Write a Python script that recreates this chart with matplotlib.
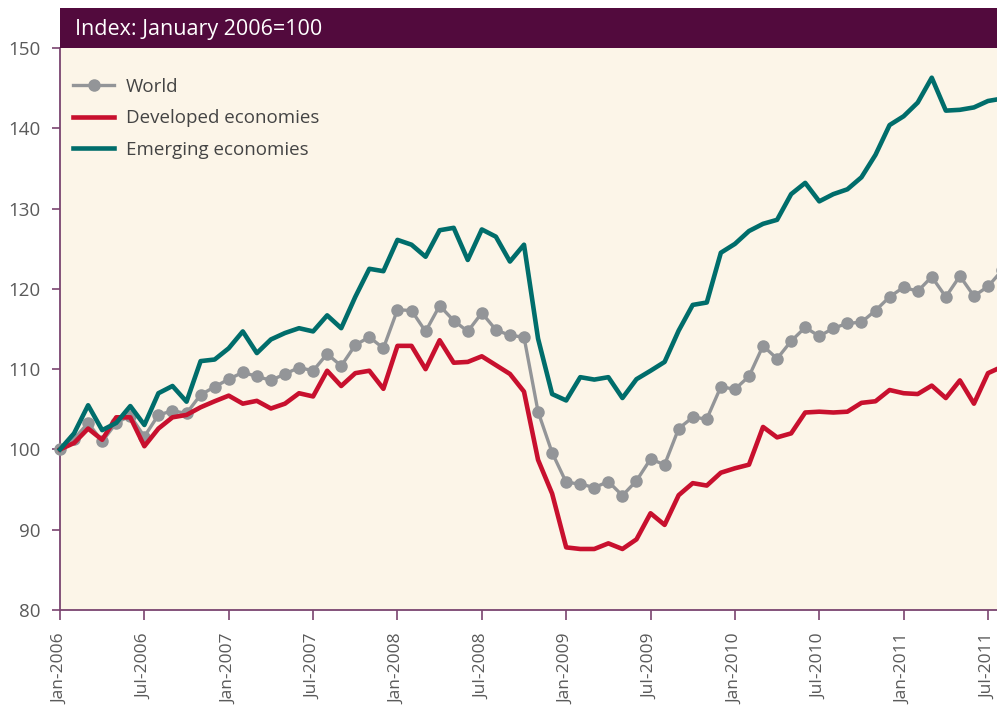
import matplotlib
matplotlib.use("Agg")
import matplotlib.pyplot as plt
import numpy as np
from matplotlib.patches import Rectangle

plt.rcParams['font.family'] = ['Open Sans', 'DejaVu Sans']

# monthly index, Jan-2006 .. Aug-2011 (Jan 2006 = 100)
world = [100.0, 101.3, 103.3, 101.0, 103.3, 104.2, 101.6, 104.3, 104.8, 104.5,
         106.8, 107.8, 108.75, 109.6, 109.1, 108.6, 109.4, 110.2, 109.8, 111.9,
         110.4, 113.0, 114.0, 112.6, 117.4, 117.3, 114.7, 117.9, 116.05, 114.7,
         117.0, 114.9, 114.2, 114.0, 104.7, 99.6, 95.9, 95.7, 95.25, 96.0,
         94.25, 96.1, 98.8, 98.1, 102.6, 104.0, 103.8, 107.8, 107.5, 109.1,
         112.9, 111.3, 113.5, 115.2, 114.1, 115.1, 115.7, 115.85, 117.3, 119.0,
         120.2, 119.7, 121.5, 119.0, 121.6, 119.1, 120.3, 122.3]
developed = [100.0, 100.8, 102.6, 101.2, 104.0, 104.0, 100.4, 102.6, 104.0, 104.3,
             105.25, 106.0, 106.7, 105.7, 106.05, 105.1, 105.7, 107.0, 106.6, 109.8,
             107.9, 109.5, 109.8, 107.55, 112.9, 112.9, 110.0, 113.6, 110.8, 110.9,
             111.6, 110.5, 109.4, 107.2, 98.7, 94.5, 87.8, 87.6, 87.6, 88.3,
             87.6, 88.8, 92.05, 90.6, 94.3, 95.8, 95.5, 97.1, 97.65, 98.1,
             102.8, 101.5, 102.0, 104.6, 104.7, 104.6, 104.7, 105.8, 106.0, 107.4,
             107.0, 106.9, 107.95, 106.4, 108.6, 105.7, 109.5, 110.3]
emerging = [100.0, 102.0, 105.5, 102.4, 103.3, 105.4, 103.05, 107.0, 107.9, 105.95,
            111.0, 111.2, 112.6, 114.7, 112.0, 113.7, 114.5, 115.1, 114.7, 116.7,
            115.1, 119.0, 122.5, 122.2, 126.1, 125.5, 124.0, 127.3, 127.6, 123.6,
            127.4, 126.5, 123.4, 125.5, 113.8, 106.9, 106.1, 109.0, 108.7, 109.0,
            106.4, 108.75, 109.8, 110.9, 114.8, 118.0, 118.3, 124.5, 125.6, 127.2,
            128.1, 128.6, 131.8, 133.2, 130.9, 131.8, 132.4, 133.9, 136.7, 140.4,
            141.5, 143.2, 146.3, 142.2, 142.3, 142.6, 143.4, 143.7]

tick_labels = ['Jan-2006', 'Jul-2006', 'Jan-2007', 'Jul-2007', 'Jan-2008', 'Jul-2008',
               'Jan-2009', 'Jul-2009', 'Jan-2010', 'Jul-2010', 'Jan-2011', 'Jul-2011']
y_ticks = [80, 90, 100, 110, 120, 130, 140, 150]
title = 'Index: January 2006=100'

GREY = '#939598'
RED = '#c8102e'
TEAL = '#006d6b'
PURPLE = '#520a3d'
SPINE = '#7a4470'
BG = '#fcf5e8'
TXT = '#5a5a5a'

x = np.arange(len(world))

fig = plt.figure(figsize=(9.97, 7.10), dpi=100)
ax = fig.add_axes([60 / 997, 1 - 610 / 710, 937 / 997, 562 / 710])
ax.set_facecolor(BG)

ax.plot(x, world, color=GREY, lw=2.4, marker='o', ms=8, label='World',
        clip_on=False, zorder=3)
ax.plot(x, developed, color=RED, lw=3.3, label='Developed economies',
        clip_on=False, zorder=4)
ax.plot(x, emerging, color=TEAL, lw=3.3, label='Emerging economies',
        clip_on=False, zorder=5)

ax.set_xlim(0, 66.64)
ax.set_ylim(80, 150)
ax.set_yticks(y_ticks)
ax.set_xticks(np.arange(0, 67, 6))
ax.set_xticklabels(tick_labels, rotation=90, va='top')

for s in ['top', 'right']:
    ax.spines[s].set_visible(False)
for s in ['left', 'bottom']:
    ax.spines[s].set_color(SPINE)
    ax.spines[s].set_linewidth(1.3)
ax.tick_params(axis='both', colors=SPINE, width=1.2, labelcolor=TXT)
ax.tick_params(axis='y', length=6, pad=8, labelsize=13.5)
ax.tick_params(axis='x', length=7, pad=10, labelsize=12.5)

# header band
fig.add_artist(Rectangle((60 / 997, 1 - 48 / 710), 937 / 997, 40 / 710,
                         transform=fig.transFigure, facecolor=PURPLE,
                         edgecolor='none'))
fig.text(75 / 997, 1 - 29 / 710, title, color='white', fontsize=15.5,
         va='center', ha='left')

leg = ax.legend(loc='upper left', bbox_to_anchor=(0.014, 0.947), frameon=False,
                fontsize=13.5, handlelength=2.2, handletextpad=0.6,
                labelspacing=0.72, borderpad=0, borderaxespad=0)
for t in leg.get_texts():
    t.set_color('#444444')

fig.savefig('out.png', dpi=100, facecolor='white')
